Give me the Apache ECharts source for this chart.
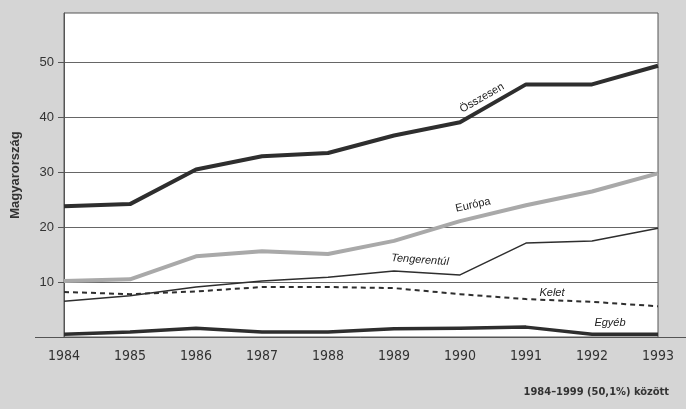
<!DOCTYPE html>
<html>
<head>
<meta charset="utf-8">
<script src="https://cdn.jsdelivr.net/npm/echarts@6/dist/echarts.min.js"></script>
<style>
html,body{margin:0;padding:0;background:#d5d5d5;}
#chart{width:686px;height:409px;}
</style>
</head>
<body>
<div id="chart"></div>
<script>
const years = ['1984','1985','1986','1987','1988','1989','1990','1991','1992','1993'];
const osszesen   = [23.8, 24.2, 30.5, 32.9, 33.5, 36.7, 39.1, 46.0, 46.0, 49.4];
const europa     = [10.2, 10.5, 14.7, 15.6, 15.1, 17.5, 21.1, 24.0, 26.5, 29.8];
const tengerentul= [6.5, 7.5, 9.1, 10.2, 10.9, 12.0, 11.3, 17.1, 17.5, 19.8];
const kelet      = [8.2, 7.8, 8.3, 9.1, 9.1, 8.9, 7.8, 6.9, 6.4, 5.6];
const egyeb      = [0.5, 0.9, 1.6, 0.9, 0.9, 1.5, 1.6, 1.8, 0.5, 0.5];
const yTicks = [10, 20, 30, 40, 50];

const chart = echarts.init(document.getElementById('chart'));
const dark = '#2e2e2e';
const narrow = 'DejaVu Sans Condensed, Liberation Sans Narrow, Arial Narrow, Liberation Sans, sans-serif';
const sans = 'Liberation Sans, Arial, sans-serif';
function line(name, data, color, width, type) {
  return {
    name, type: 'line', data, symbol: 'none', silent: true,
    lineStyle: { color, width, type: type || 'solid', cap: 'butt', join: 'round' }
  };
}
chart.setOption({
  backgroundColor: '#d5d5d5',
  animation: false,
  grid: { left: 64, right: 28, top: 13, bottom: 72, show: true,
          containLabel: false, outerBoundsMode: 'none',
          backgroundColor: '#ffffff', borderColor: '#555', borderWidth: 1 },
  xAxis: {
    type: 'category', data: years, boundaryGap: false,
    axisLine: { show: false },
    axisTick: { show: false },
    axisLabel: { margin: 12, color: '#333', fontSize: 14, fontFamily: narrow },
    splitLine: { show: false }
  },
  yAxis: {
    type: 'value', min: 0, max: 59, interval: 10,
    name: 'Magyarország', nameLocation: 'middle', nameGap: 42, nameRotate: 90,
    nameTextStyle: { color: '#333', fontSize: 13, fontWeight: 'bold', fontFamily: sans },
    axisLine: { show: true, lineStyle: { color: '#555', width: 1 } },
    axisTick: { show: true, length: 6, lineStyle: { color: '#555' },
                customValues: yTicks },
    axisLabel: { margin: 10, color: '#333', fontSize: 13, fontFamily: sans,
                 customValues: yTicks,
                 formatter: v => yTicks.indexOf(v) >= 0 ? String(v) : '' },
    splitLine: { show: true, lineStyle: { color: '#666', width: 1 } }
  },
  series: [
    line('Összesen', osszesen, dark, 4),
    line('Európa', europa, '#a9a9a9', 4),
    line('Tengerentúl', tengerentul, dark, 1.5),
    line('Kelet', kelet, dark, 2, [5, 4]),
    line('Egyéb', egyeb, dark, 3.5)
  ],
  graphic: [
    { type: 'line', shape: { x1: 35, y1: 337.5, x2: 686, y2: 337.5 },
      style: { stroke: '#555', lineWidth: 1 }, z: 100 },
    { type: 'text', x: 482, y: 98, rotation: 30 * Math.PI / 180,
      style: { text: 'Összesen', fill: '#222', fontSize: 11, fontFamily: sans,
               align: 'center', verticalAlign: 'middle' } },
    { type: 'text', x: 473, y: 205, rotation: 12 * Math.PI / 180,
      style: { text: 'Európa', fill: '#222', fontSize: 11, fontFamily: sans,
               align: 'center', verticalAlign: 'middle' } },
    { type: 'text', x: 420, y: 260, rotation: -4 * Math.PI / 180,
      style: { text: 'Tengerentúl', fill: '#222', fontSize: 11, fontStyle: 'italic', fontFamily: sans,
               align: 'center', verticalAlign: 'middle' } },
    { type: 'text', x: 552, y: 293,
      style: { text: 'Kelet', fill: '#222', fontSize: 11, fontStyle: 'italic', fontFamily: sans,
               align: 'center', verticalAlign: 'middle' } },
    { type: 'text', x: 610, y: 323,
      style: { text: 'Egyéb', fill: '#222', fontSize: 11, fontStyle: 'italic', fontFamily: sans,
               align: 'center', verticalAlign: 'middle' } },
    { type: 'text', x: 669, y: 392,
      style: { text: '1984–1999 (50,1%) között', fill: '#333', fontSize: 11, fontWeight: 'bold',
               fontFamily: narrow, align: 'right', verticalAlign: 'middle' } }
  ]
});
</script>
</body>
</html>
